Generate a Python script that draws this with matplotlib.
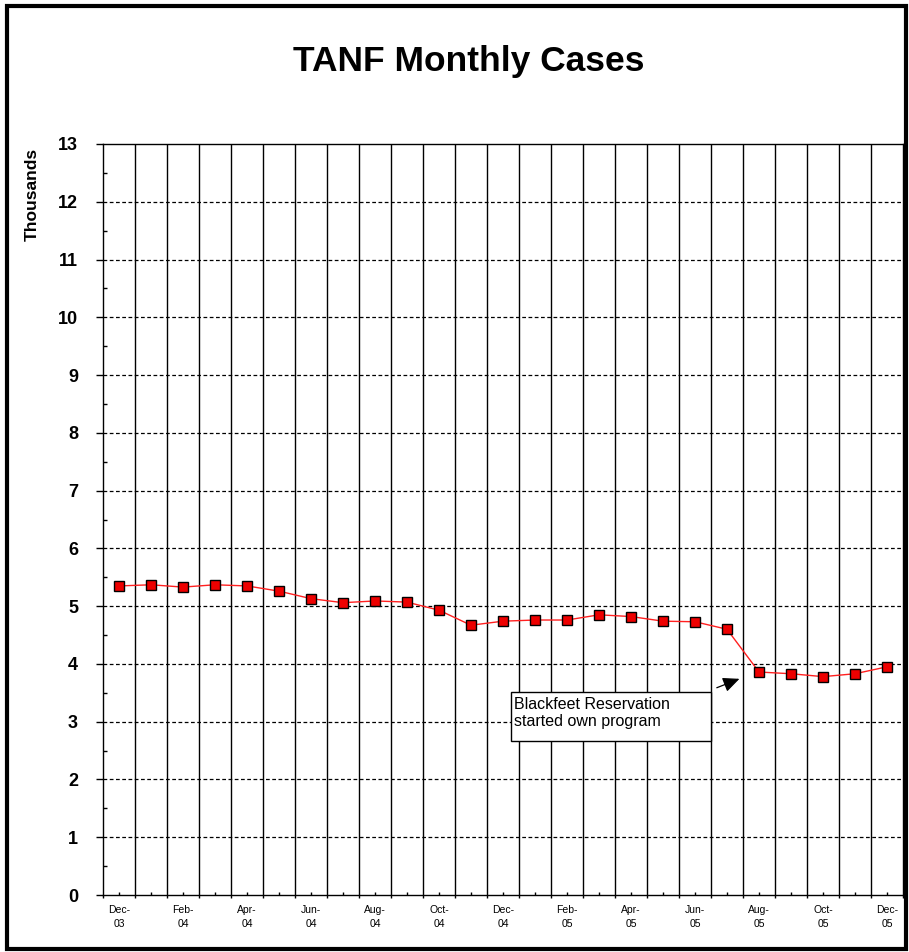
#!/usr/bin/env python3
"""TANF monthly cases, Dec 2003 - Dec 2005 (thousands)."""
import matplotlib
matplotlib.use("Agg")
import matplotlib.pyplot as plt
from matplotlib.patches import Rectangle

plt.rcParams["font.family"] = ["Liberation Sans", "DejaVu Sans"]

months = ["Dec-03", "Jan-04", "Feb-04", "Mar-04", "Apr-04", "May-04", "Jun-04",
          "Jul-04", "Aug-04", "Sep-04", "Oct-04", "Nov-04", "Dec-04", "Jan-05",
          "Feb-05", "Mar-05", "Apr-05", "May-05", "Jun-05", "Jul-05", "Aug-05",
          "Sep-05", "Oct-05", "Nov-05", "Dec-05"]
cases = [5.35, 5.37, 5.33, 5.37, 5.35, 5.26, 5.13, 5.06, 5.09, 5.07, 4.93,
         4.67, 4.74, 4.76, 4.76, 4.85, 4.82, 4.74, 4.73, 4.60, 3.86, 3.83,
         3.78, 3.83, 3.95]
y_ticks = list(range(0, 14))
note = "Blackfeet Reservation\nstarted own program"

fig = plt.figure(figsize=(9.09, 9.52), dpi=100)
ax = fig.add_axes([103 / 909, 57 / 952, 800 / 909, 751 / 952])

n = len(months)
x = list(range(n))

# vertical lines at category boundaries, dashed horizontal lines at each unit
for b in range(1, n):
    ax.axvline(b - 0.5, color="black", lw=1.0, zorder=1)
for yv in y_ticks[1:-1]:
    ax.axhline(yv, color="black", lw=0.9, ls=(0, (3, 2)), zorder=1)

ax.plot(x, cases, color="#ff2020", lw=1.0, marker="s", markersize=7.3,
        markerfacecolor="#ee0000", markeredgecolor="black", markeredgewidth=1.0,
        zorder=3)

ax.set_xlim(-0.5, n - 0.5)
ax.set_ylim(0, 13)

# major x ticks at boundaries (no labels), labels on minor ticks at centers
ax.set_xticks([b - 0.5 for b in range(n + 1)])
ax.set_xticklabels([])
ax.tick_params(axis="x", which="major", direction="out", length=2.5, width=1)
ax.set_xticks(x, minor=True)
ax.set_xticklabels([m.replace("-", "-\n") if i % 2 == 0 else "" for i, m in enumerate(months)],
                   minor=True, fontsize=7.5, linespacing=1.55)
ax.tick_params(axis="x", which="minor", direction="in", length=2, width=1, pad=7)

ax.set_yticks(y_ticks)
ax.set_yticklabels([str(v) for v in y_ticks], fontsize=13, fontweight="bold")
ax.set_yticks([v + 0.5 for v in y_ticks[:-1]], minor=True)
ax.tick_params(axis="y", which="major", direction="out", length=5, width=1, pad=13)
ax.tick_params(axis="y", which="minor", direction="in", length=3, width=1)

for sp in ax.spines.values():
    sp.set_linewidth(1.0)
    sp.set_color("black")

ax.text(-0.089, 0.995, "Thousands", transform=ax.transAxes, rotation=90,
        ha="center", va="top", fontsize=12.5, fontweight="bold")

ax.annotate("", xy=(19.47, 3.76), xytext=(18.6, 3.57),
            arrowprops=dict(arrowstyle="-|>,head_length=1.0,head_width=0.45",
                            color="black", lw=0.9), zorder=4)
ax.add_patch(Rectangle((12.25, 2.66), 6.25, 0.85, facecolor="white",
                       edgecolor="black", lw=1.0, zorder=5))
ax.text(12.35, 3.43, note, ha="left", va="top", fontsize=11.5, linespacing=1.2,
        zorder=6)

fig.text(469 / 909, 1 - 62 / 952, "TANF Monthly Cases", ha="center", va="center",
         fontsize=25.5, fontweight="bold")

fig.patches.append(Rectangle((7 / 909, 3 / 952), 899 / 909, 943 / 952,
                             transform=fig.transFigure, fill=False,
                             edgecolor="black", lw=3))

fig.savefig("out.png", dpi=100)
